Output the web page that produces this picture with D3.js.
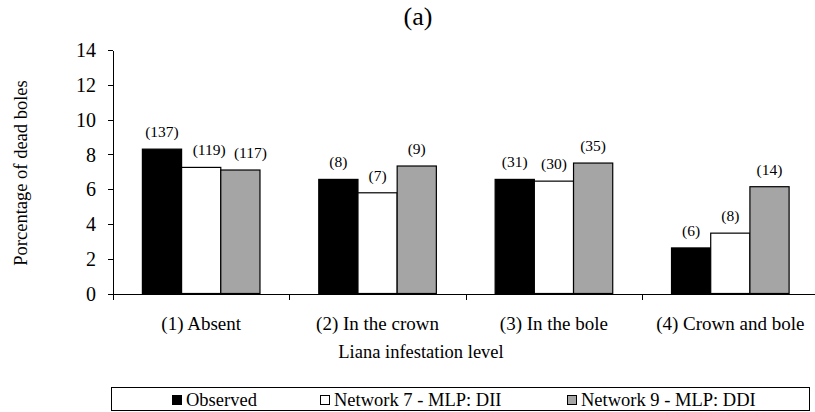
<!DOCTYPE html>
<html>
<head>
<meta charset="utf-8">
<script src="https://cdn.jsdelivr.net/npm/d3@7"></script>
<style>
  html, body { margin: 0; padding: 0; background: #fff; }
  svg { display: block; }
  text { font-family: "Liberation Serif", "Times New Roman", serif; fill: #000; }
</style>
</head>
<body>
<svg id="chart" width="815" height="412"></svg>
<script>
// Liana infestation categories and the three compared series (percentage of dead boles)
const categories = ["(1) Absent", "(2) In the crown", "(3) In the bole", "(4) Crown and bole"];
const seriesNames = ["Observed", "Network 7 - MLP: DII", "Network 9 - MLP: DDI"];
const observed = [8.30, 6.56, 6.56, 2.62];
const network7 = [7.25, 5.79, 6.46, 3.47];
const network9 = [7.10, 7.33, 7.50, 6.14];
// Number of dead boles written above each bar
const observedCounts = [137, 8, 31, 6];
const network7Counts = [119, 7, 30, 8];
const network9Counts = [117, 9, 35, 14];
const yTicks = [0, 2, 4, 6, 8, 10, 12, 14];

const fills = ["#000000", "#ffffff", "#a5a5a5"];
const seriesValues = [observed, network7, network9];
const seriesCounts = [observedCounts, network7Counts, network9Counts];

const svg = d3.select("#chart");
const plotLeft = 113, plotRight = 818.5, plotTop = 50, plotBottom = 293.5;

const x = d3.scaleBand().domain(categories).range([plotLeft, plotRight]).padding(0);
const barW = x.bandwidth() / 4.5;            // gap between groups = 150% of a bar
const groupOffset = (x.bandwidth() - 3 * barW) / 2;
const y = d3.scaleLinear().domain([0, 14]).range([plotBottom, plotTop]);

// title
svg.append("text").attr("x", 418).attr("y", 25)
  .attr("text-anchor", "middle").style("font-size", "26px").text("(a)");

// y axis
const yAxis = svg.append("g").attr("transform", `translate(${plotLeft},0)`)
  .call(d3.axisLeft(y).tickValues(yTicks).tickSize(5).tickSizeOuter(0).tickPadding(12));
yAxis.selectAll("text").style("font-size", "20px").attr("dy", "0.34em");
yAxis.selectAll("path, line").attr("stroke", "#000").attr("shape-rendering", "crispEdges");

// bars
const rows = [];
categories.forEach((c, i) => {
  seriesValues.forEach((vals, s) => {
    rows.push({ cat: c, s, v: vals[i], n: seriesCounts[s][i] });
  });
});

svg.append("g").selectAll("rect").data(rows).join("rect")
  .attr("x", d => x(d.cat) + groupOffset + d.s * barW)
  .attr("y", d => y(d.v))
  .attr("width", barW)
  .attr("height", d => y(0) - y(d.v))
  .attr("fill", d => fills[d.s])
  .attr("stroke", "#000")
  .attr("stroke-width", 1.2);

// count labels above bars; the first group's two right labels are eased apart
const nudge = { "0-1": 8, "0-2": 10 };
svg.append("g").selectAll("text").data(rows).join("text")
  .attr("x", d => x(d.cat) + groupOffset + (d.s + 0.5) * barW + (nudge[categories.indexOf(d.cat) + "-" + d.s] || 0))
  .attr("y", d => y(d.v) - 12)
  .attr("text-anchor", "middle")
  .style("font-size", "15.5px")
  .text(d => `(${d.n})`);

// x axis with ticks at category boundaries
const xb = d3.scaleLinear().domain([0, categories.length]).range([plotLeft, plotRight]);
const xAxis = svg.append("g").attr("transform", `translate(0,${plotBottom})`)
  .call(d3.axisBottom(xb).tickValues(d3.range(categories.length)).tickSize(6).tickSizeOuter(0).tickFormat(""));
xAxis.selectAll("path, line").attr("stroke", "#000").attr("shape-rendering", "crispEdges");

// category labels
svg.append("g").selectAll("text").data(categories).join("text")
  .attr("x", d => x(d) + x.bandwidth() / 2)
  .attr("y", 330)
  .attr("text-anchor", "middle")
  .style("font-size", "19px")
  .text(d => d);

// axis titles
svg.append("text").attr("x", 421).attr("y", 358)
  .attr("text-anchor", "middle").style("font-size", "18.5px").text("Liana infestation level");
svg.append("text").attr("transform", "translate(27,173) rotate(-90)")
  .attr("text-anchor", "middle").style("font-size", "18.5px").text("Porcentage of dead boles");

// legend
const legend = svg.append("g");
legend.append("rect").attr("x", 111.5).attr("y", 387.5).attr("width", 698).attr("height", 22.5)
  .attr("fill", "#fff").attr("stroke", "#000").attr("shape-rendering", "crispEdges");
const legendX = [172, 320, 567];
seriesNames.forEach((name, s) => {
  legend.append("rect").attr("x", legendX[s] + 0.5).attr("y", 395.5).attr("width", 9).attr("height", 9)
    .attr("fill", fills[s]).attr("stroke", "#000").attr("shape-rendering", "crispEdges");
  legend.append("text").attr("x", legendX[s] + 14).attr("y", 406)
    .style("font-size", "18.5px").text(name);
});
</script>
</body>
</html>
